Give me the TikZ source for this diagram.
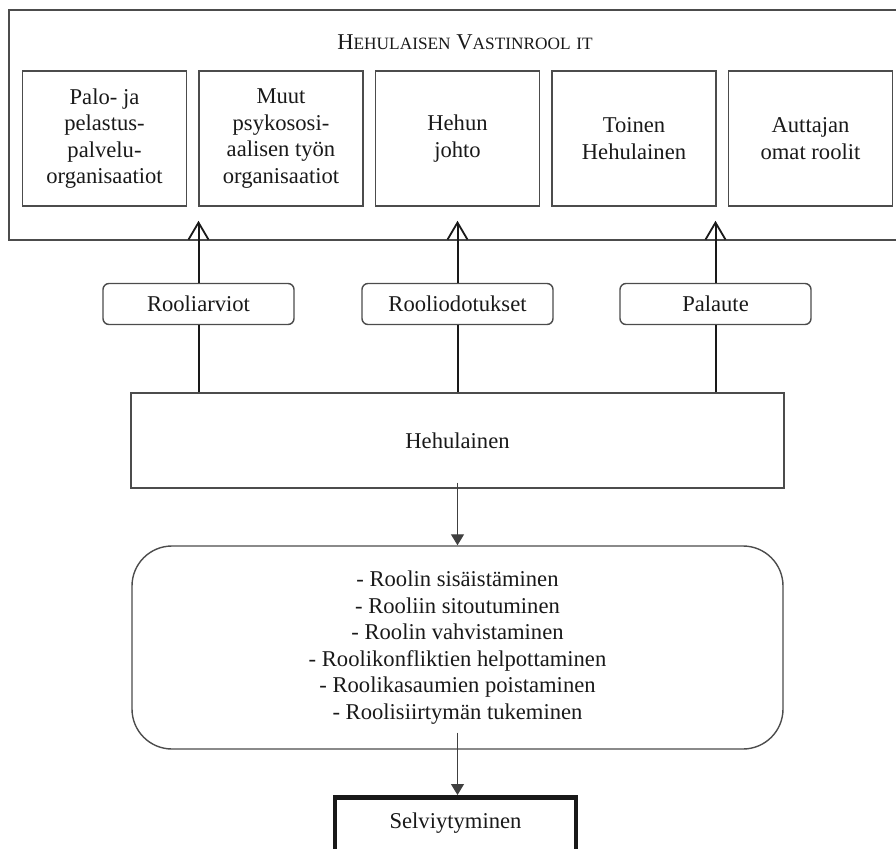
\documentclass[tikz,border=0pt]{standalone}
\usepackage{fontspec}
\setmainfont{Liberation Serif}
\usetikzlibrary{arrows.meta,positioning}

\newcommand\scword[2]{#1{\fontsize{17.3}{20}\selectfont #2}}

\begin{document}
\begin{tikzpicture}[x=1pt, y=-1pt,
        every node/.style = {font=\fontsize{22.6}{26.5}\selectfont, text=black!90},
        line/.style = {draw=black!70, line width=1.4pt},
        rolebox/.style = {line, minimum width=164pt, minimum height=135pt, align=center, inner sep=0pt},
        tag/.style = {line, rounded corners=6pt, minimum width=191pt, minimum height=41pt, inner sep=0pt},
        shaft/.style = {draw=black!90, line width=2pt},
        up/.style = {shaft, -{Straight Barb[length=17pt, width=20pt, line width=1.8pt]}},
        down/.style = {draw=black!75, line width=1.1pt, -{Triangle[length=11pt, width=13pt]}}]
    \useasboundingbox (0,0) rectangle (896,848);

    % vastinroolit
    \node[line, minimum width=894pt, minimum height=230pt] (roles) at (456,125) {};
    \node (title) at (465,42) {\scword{H}{EHULAISEN} \scword{V}{ASTINROOL} \scword{}{IT}};
    \node[rolebox] (palo) at (104.5,138.5) {Palo- ja\\pelastus-\\palvelu-\\organisaatiot};
    \node[rolebox] (muut) at (281,138.5) {Muut\\psykososi-\\aalisen työn\\organisaatiot};
    \node[rolebox] (johto) at (457.5,138.5) {Hehun\\johto};
    \node[rolebox] (toinen) at (634,138.5) {Toinen\\Hehulainen};
    \node[rolebox] (omat) at (810.5,138.5) {Auttajan\\omat roolit};

    \node[tag] (arviot) at (198.5,304) {Rooliarviot};
    \node[tag] (odotukset) at (457.5,304) {Rooliodotukset};
    \node[tag] (palaute) at (715.5,304) {Palaute};

    \node[line, minimum width=653pt, minimum height=95pt] (hehu) at (457.5,440.5) {Hehulainen};
    \node[line, rounded corners=40pt, minimum width=651pt, minimum height=203pt, align=center] (keinot) at (457.5,647.5)
        {- Roolin sisäistäminen\\- Rooliin sitoutuminen\\- Roolin vahvistaminen\\- Roolikonfliktien helpottaminen\\- Roolikasaumien poistaminen\\- Roolisiirtymän tukeminen};
    \node[draw=black!90, line width=4.5pt, anchor=north, minimum width=241pt, inner sep=0pt,
        text height=31pt, text depth=30pt] (selv) at (455.5,795) {Selviytyminen};

    % nuolet
    \foreach \t in {arviot, odotukset, palaute} {
        \coordinate (t-\t) at ([yshift=62pt]\t.north);
        \draw[shaft] (hehu.north -| \t) -- (\t);
        \draw[up] (\t) -- (t-\t);
    }
    \draw[down] ([yshift=6pt]hehu.south) -- (keinot.north);
    \draw[down] ([yshift=17pt]keinot.south) -- (selv.north -| keinot.south);
\end{tikzpicture}
\end{document}
